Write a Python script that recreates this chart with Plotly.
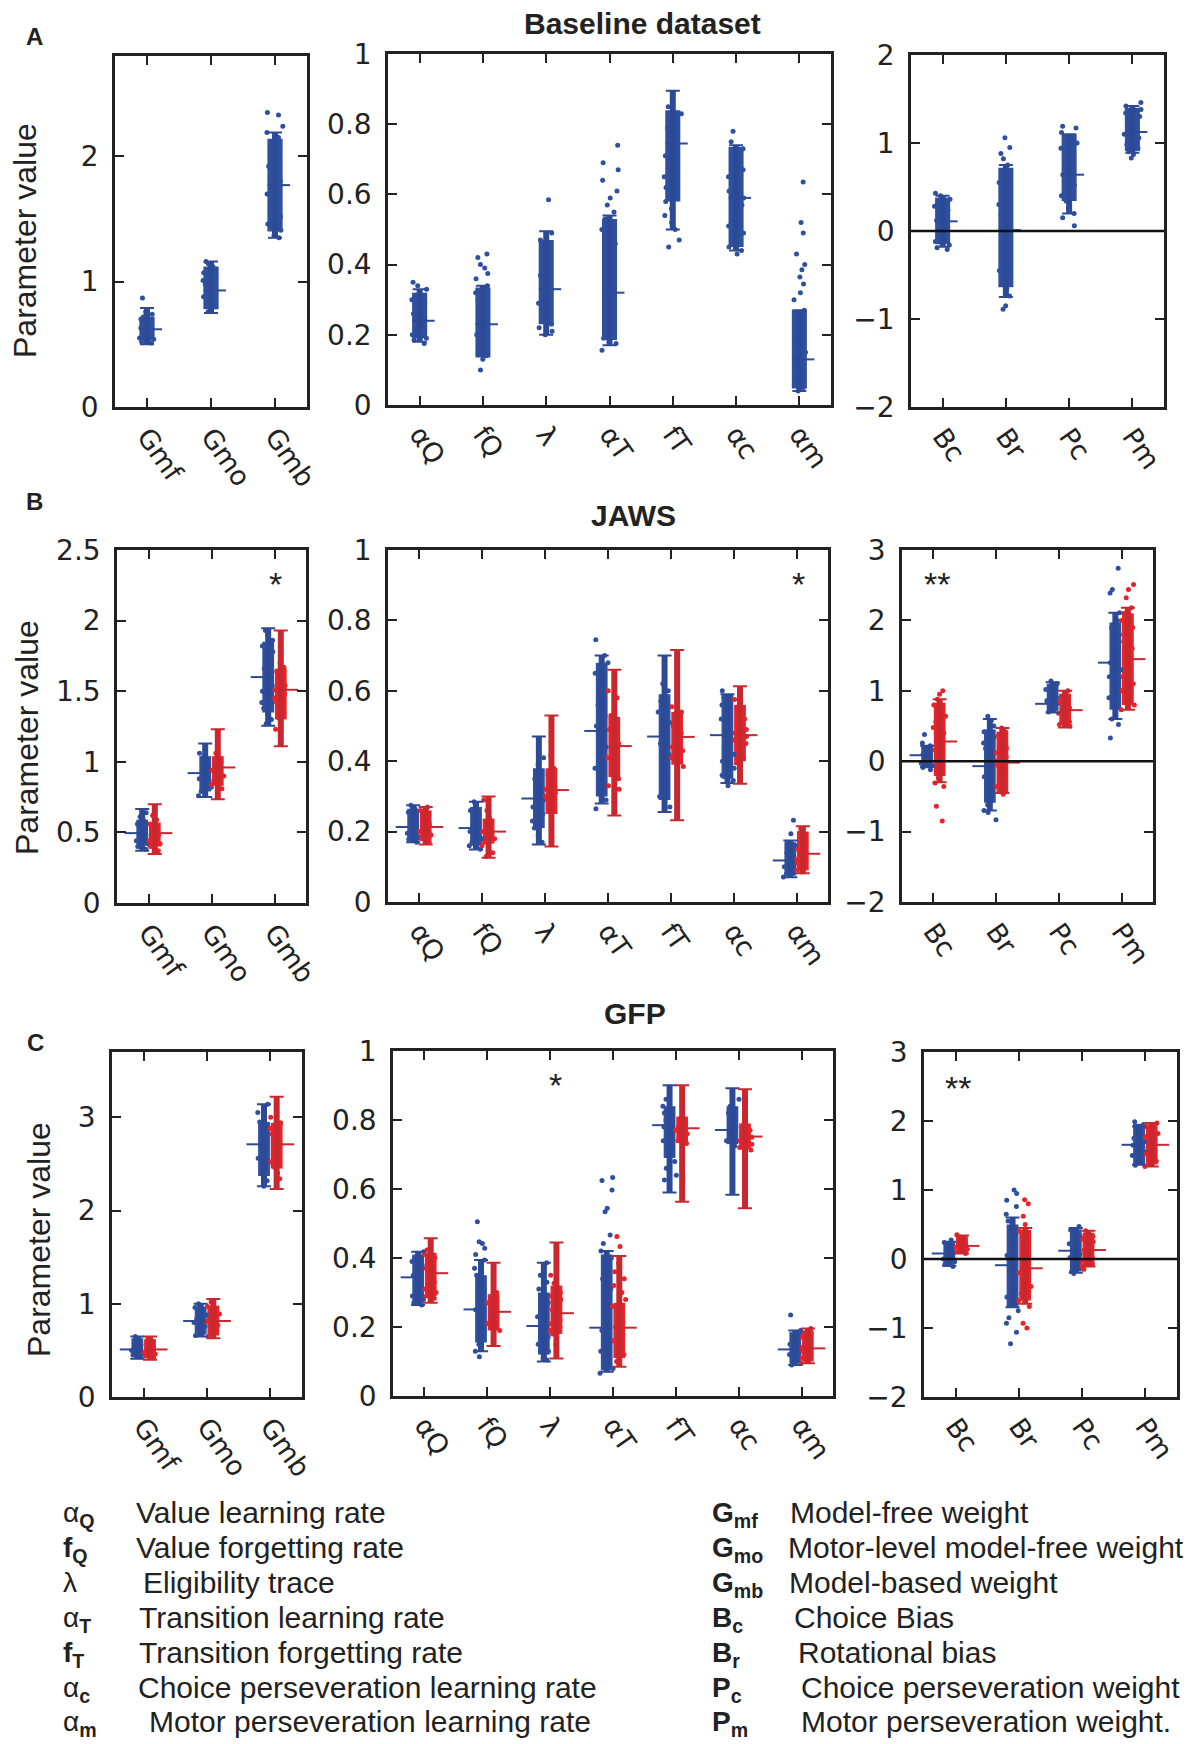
import plotly.graph_objects as go

W, H = 1204, 1744
FONT = "Liberation Sans, Arial, sans-serif"
TICK_FONT = "DejaVu Sans, Liberation Sans, sans-serif"
INK = "#222222"
BLUE, BLUE_BAR = "#2f4f9f", "#2c4a95"
RED, RED_BAR = "#e8232a", "#c9282f"

# ---------------- categories ----------------
WEIGHT_LABELS = ["Gmf", "Gmo", "Gmb"]
RATE_LABELS = ["αQ", "fQ", "λ", "αT", "fT", "αc", "αm"]
BIAS_LABELS = ["Bc", "Br", "Pc", "Pm"]

# ---------------- A: Baseline dataset ----------------
A_W_PTS = [
    [0.87, 0.76, 0.74, 0.72, 0.70, 0.68, 0.66, 0.65, 0.63, 0.62, 0.61, 0.60, 0.58, 0.57, 0.55, 0.54, 0.52, 0.51],
    [1.16, 1.14, 1.12, 1.10, 1.07, 1.04, 1.01, 0.98, 0.96, 0.94, 0.92, 0.90, 0.88, 0.86, 0.83, 0.80, 0.78, 0.76],
    [2.35, 2.33, 2.24, 2.19, 2.15, 2.10, 2.04, 1.98, 1.92, 1.86, 1.80, 1.75, 1.70, 1.64, 1.58, 1.52, 1.46, 1.41, 1.37, 1.35],
]
A_W_CORE = [[0.53, 0.72], [0.78, 1.12], [1.40, 2.14]]
A_W_ERR = [[0.50, 0.62, 0.79], [0.75, 0.93, 1.16], [1.35, 1.77, 2.19]]

A_R_PTS = [
    [0.35, 0.34, 0.33, 0.31, 0.30, 0.29, 0.28, 0.27, 0.26, 0.25, 0.24, 0.23, 0.22, 0.21, 0.20, 0.19, 0.185, 0.175],
    [0.43, 0.42, 0.40, 0.39, 0.375, 0.36, 0.34, 0.32, 0.30, 0.28, 0.26, 0.24, 0.22, 0.20, 0.18, 0.16, 0.14, 0.13, 0.10],
    [0.585, 0.49, 0.47, 0.45, 0.43, 0.41, 0.39, 0.37, 0.35, 0.33, 0.31, 0.29, 0.27, 0.25, 0.23, 0.22, 0.21, 0.20],
    [0.74, 0.69, 0.67, 0.64, 0.61, 0.59, 0.57, 0.55, 0.53, 0.50, 0.46, 0.42, 0.38, 0.34, 0.30, 0.26, 0.22, 0.19, 0.175, 0.156],
    [0.85, 0.83, 0.81, 0.79, 0.77, 0.75, 0.73, 0.71, 0.69, 0.67, 0.65, 0.62, 0.60, 0.58, 0.56, 0.54, 0.52, 0.50, 0.47, 0.45],
    [0.78, 0.75, 0.73, 0.71, 0.69, 0.67, 0.65, 0.63, 0.61, 0.59, 0.57, 0.55, 0.53, 0.51, 0.49, 0.47, 0.45, 0.44, 0.43],
    [0.635, 0.52, 0.49, 0.43, 0.40, 0.385, 0.365, 0.345, 0.32, 0.30, 0.27, 0.24, 0.21, 0.18, 0.15, 0.12, 0.09, 0.07, 0.05, 0.04],
]
A_R_CORE = [[0.19, 0.32], [0.135, 0.335], [0.23, 0.47], [0.185, 0.53], [0.58, 0.84], [0.45, 0.735], [0.047, 0.27]]
A_R_ERR = [[0.18, 0.24, 0.33], [0.145, 0.23, 0.34], [0.20, 0.33, 0.495], [0.17, 0.32, 0.54],
           [0.50, 0.745, 0.895], [0.44, 0.59, 0.74], [0.04, 0.13, 0.27]]

A_B_PTS = [
    [0.43, 0.40, 0.36, 0.32, 0.28, 0.24, 0.20, 0.16, 0.12, 0.08, 0.04, 0.0, -0.04, -0.08, -0.12, -0.16, -0.19, -0.21],
    [1.06, 0.95, 0.88, 0.82, 0.75, 0.65, 0.55, 0.42, 0.30, 0.18, 0.05, -0.08, -0.20, -0.32, -0.45, -0.58, -0.66, -0.74, -0.85, -0.89],
    [1.19, 1.17, 1.12, 1.06, 1.0, 0.94, 0.88, 0.82, 0.76, 0.70, 0.64, 0.58, 0.52, 0.46, 0.40, 0.34, 0.26, 0.20, 0.15, 0.06],
    [1.46, 1.42, 1.38, 1.34, 1.30, 1.26, 1.22, 1.18, 1.14, 1.10, 1.06, 1.02, 0.98, 0.94, 0.90, 0.87, 0.83],
]
A_B_CORE = [[-0.15, 0.38], [-0.64, 0.72], [0.34, 1.10], [0.91, 1.40]]
A_B_ERR = [[-0.18, 0.11, 0.40], [-0.75, 0.01, 0.75], [0.20, 0.64, 1.10], [0.89, 1.125, 1.42]]

# ---------------- B: JAWS (blue / red) ----------------
B_W_BLUE_PTS = [
    [0.64, 0.61, 0.58, 0.56, 0.54, 0.52, 0.50, 0.48, 0.46, 0.44, 0.42, 0.40, 0.38],
    [1.10, 1.06, 1.03, 1.00, 0.97, 0.94, 0.91, 0.88, 0.85, 0.82, 0.79, 0.76],
    [1.93, 1.90, 1.86, 1.82, 1.78, 1.74, 1.70, 1.66, 1.62, 1.58, 1.54, 1.50, 1.46, 1.42, 1.38, 1.34, 1.30, 1.27],
]
B_W_BLUE_CORE = [[0.41, 0.59], [0.79, 1.04], [1.35, 1.85]]
B_W_BLUE_ERR = [[0.37, 0.495, 0.665], [0.75, 0.92, 1.13], [1.255, 1.60, 1.945]]
B_W_RED_PTS = [
    [0.62, 0.59, 0.56, 0.54, 0.52, 0.50, 0.48, 0.46, 0.44, 0.42, 0.40, 0.37],
    [1.06, 1.03, 1.00, 0.98, 0.96, 0.94, 0.92, 0.90, 0.87, 0.84, 0.81],
    [1.70, 1.67, 1.64, 1.60, 1.57, 1.54, 1.51, 1.48, 1.45, 1.42, 1.39, 1.35, 1.31, 1.27, 1.23],
]
B_W_RED_CORE = [[0.40, 0.57], [0.83, 1.04], [1.30, 1.66]]
B_W_RED_ERR = [[0.347, 0.495, 0.70], [0.735, 0.96, 1.23], [1.11, 1.51, 1.93]]

B_R_BLUE_PTS = [
    [0.275, 0.265, 0.255, 0.245, 0.235, 0.225, 0.215, 0.205, 0.195, 0.185, 0.178, 0.17],
    [0.285, 0.27, 0.26, 0.25, 0.24, 0.23, 0.22, 0.21, 0.20, 0.19, 0.18, 0.17, 0.16, 0.15],
    [0.41, 0.39, 0.37, 0.35, 0.33, 0.31, 0.29, 0.27, 0.25, 0.23, 0.21, 0.19, 0.17],
    [0.745, 0.70, 0.68, 0.65, 0.62, 0.59, 0.56, 0.53, 0.50, 0.47, 0.44, 0.41, 0.38, 0.35, 0.32, 0.29, 0.265],
    [0.62, 0.60, 0.57, 0.54, 0.51, 0.48, 0.45, 0.42, 0.39, 0.36, 0.33, 0.30, 0.27],
    [0.60, 0.58, 0.56, 0.54, 0.52, 0.50, 0.48, 0.46, 0.44, 0.42, 0.40, 0.38, 0.36, 0.345, 0.33],
    [0.232, 0.194, 0.17, 0.16, 0.15, 0.14, 0.13, 0.12, 0.11, 0.10, 0.09, 0.08, 0.071],
]
B_R_BLUE_CORE = [[0.175, 0.265], [0.16, 0.27], [0.21, 0.38], [0.30, 0.68], [0.29, 0.59], [0.35, 0.59], [0.075, 0.17]]
B_R_BLUE_ERR = [[0.17, 0.213, 0.275], [0.149, 0.21, 0.285], [0.163, 0.294, 0.47], [0.28, 0.486, 0.70],
                [0.256, 0.47, 0.70], [0.338, 0.474, 0.59], [0.07, 0.118, 0.175]]
B_R_RED_PTS = [
    [0.27, 0.26, 0.25, 0.24, 0.23, 0.22, 0.21, 0.20, 0.19, 0.18, 0.17],
    [0.29, 0.26, 0.24, 0.23, 0.22, 0.21, 0.20, 0.19, 0.18, 0.17, 0.16, 0.14, 0.13],
    [0.415, 0.38, 0.36, 0.35, 0.34, 0.33, 0.32, 0.31, 0.30, 0.29, 0.28, 0.27, 0.26, 0.24],
    [0.60, 0.58, 0.55, 0.53, 0.51, 0.49, 0.47, 0.45, 0.43, 0.41, 0.39, 0.37, 0.35, 0.33, 0.32],
    [0.555, 0.54, 0.52, 0.50, 0.48, 0.47, 0.46, 0.45, 0.44, 0.43, 0.41, 0.40, 0.385],
    [0.575, 0.56, 0.54, 0.52, 0.50, 0.49, 0.48, 0.47, 0.46, 0.45, 0.44, 0.43, 0.41, 0.395],
    [0.208, 0.195, 0.18, 0.17, 0.16, 0.15, 0.14, 0.13, 0.12, 0.11, 0.10, 0.09, 0.085],
]
B_R_RED_CORE = [[0.175, 0.26], [0.166, 0.237], [0.25, 0.38], [0.355, 0.526], [0.39, 0.54], [0.40, 0.56], [0.09, 0.20]]
B_R_RED_ERR = [[0.163, 0.213, 0.27], [0.126, 0.20, 0.30], [0.158, 0.318, 0.53], [0.246, 0.443, 0.66],
               [0.232, 0.469, 0.716], [0.336, 0.474, 0.613], [0.082, 0.137, 0.215]]

B_B_BLUE_PTS = [
    [0.38, 0.26, 0.22, 0.18, 0.14, 0.10, 0.08, 0.06, 0.04, 0.02, 0.0, -0.03, -0.06, -0.09, -0.12],
    [0.64, 0.58, 0.50, 0.42, 0.34, 0.26, 0.18, 0.10, 0.02, -0.06, -0.14, -0.22, -0.30, -0.38, -0.46, -0.54, -0.62, -0.70, -0.73, -0.83],
    [1.14, 1.10, 1.06, 1.02, 0.98, 0.94, 0.90, 0.86, 0.82, 0.78, 0.74, 0.70],
    [2.74, 2.44, 2.39, 2.11, 2.0, 1.9, 1.8, 1.7, 1.6, 1.5, 1.4, 1.3, 1.2, 1.1, 1.0, 0.9, 0.8, 0.7, 0.6, 0.52, 0.33],
]
B_B_BLUE_CORE = [[-0.10, 0.22], [-0.59, 0.45], [0.72, 1.10], [0.73, 1.97]]
B_B_BLUE_ERR = [[-0.08, 0.085, 0.22], [-0.70, -0.07, 0.60], [0.69, 0.815, 1.12], [0.60, 1.40, 2.11]]
B_B_RED_PTS = [
    [1.0, 0.95, 0.88, 0.80, 0.72, 0.64, 0.56, 0.48, 0.40, 0.32, 0.24, 0.16, 0.08, 0.0, -0.08, -0.16, -0.24, -0.31, -0.36, -0.64, -0.85],
    [0.47, 0.42, 0.36, 0.30, 0.24, 0.18, 0.12, 0.06, 0.0, -0.06, -0.12, -0.18, -0.24, -0.30, -0.36, -0.42, -0.47],
    [1.0, 0.96, 0.92, 0.88, 0.84, 0.80, 0.76, 0.72, 0.68, 0.64, 0.60, 0.56, 0.52, 0.50],
    [2.51, 2.44, 2.32, 2.18, 2.1, 2.0, 1.9, 1.8, 1.7, 1.6, 1.5, 1.4, 1.3, 1.2, 1.1, 1.0, 0.9, 0.8, 0.73],
]
B_B_RED_CORE = [[-0.21, 0.83], [-0.45, 0.42], [0.52, 0.96], [0.80, 2.10]]
B_B_RED_ERR = [[-0.30, 0.28, 0.88], [-0.45, -0.02, 0.47], [0.48, 0.725, 1.0], [0.73, 1.45, 2.18]]

# ---------------- C: GFP (blue / red) ----------------
C_W_BLUE_PTS = [
    [0.65, 0.62, 0.59, 0.56, 0.53, 0.50, 0.47, 0.45, 0.43],
    [1.0, 0.96, 0.92, 0.88, 0.84, 0.80, 0.76, 0.72, 0.68, 0.66],
    [3.14, 3.05, 2.95, 2.88, 2.80, 2.72, 2.64, 2.56, 2.48, 2.40, 2.32, 2.26],
]
C_W_BLUE_CORE = [[0.44, 0.63], [0.67, 0.97], [2.37, 2.95]]
C_W_BLUE_ERR = [[0.41, 0.51, 0.65], [0.65, 0.815, 1.0], [2.26, 2.71, 3.14]]
C_W_RED_PTS = [
    [0.63, 0.60, 0.57, 0.54, 0.51, 0.48, 0.46, 0.44, 0.42],
    [1.02, 0.97, 0.93, 0.89, 0.85, 0.81, 0.77, 0.73, 0.69, 0.65],
    [3.0, 2.94, 2.88, 2.82, 2.76, 2.70, 2.64, 2.58, 2.52, 2.46, 2.40, 2.34, 2.28],
]
C_W_RED_CORE = [[0.43, 0.62], [0.66, 0.98], [2.45, 2.94]]
C_W_RED_ERR = [[0.40, 0.51, 0.65], [0.63, 0.815, 1.05], [2.23, 2.71, 3.22]]

C_R_BLUE_PTS = [
    [0.418, 0.40, 0.39, 0.38, 0.37, 0.36, 0.35, 0.34, 0.33, 0.32, 0.31, 0.30, 0.29, 0.28, 0.27, 0.264],
    [0.505, 0.447, 0.442, 0.428, 0.41, 0.394, 0.37, 0.35, 0.33, 0.31, 0.29, 0.27, 0.25, 0.23, 0.21, 0.19, 0.17, 0.15, 0.13, 0.114],
    [0.386, 0.37, 0.35, 0.33, 0.31, 0.29, 0.27, 0.25, 0.23, 0.21, 0.19, 0.17, 0.15, 0.13, 0.11, 0.104],
    [0.633, 0.625, 0.597, 0.544, 0.534, 0.467, 0.442, 0.42, 0.40, 0.37, 0.34, 0.31, 0.28, 0.25, 0.22, 0.19, 0.16, 0.13, 0.10, 0.08, 0.066],
    [0.86, 0.84, 0.82, 0.80, 0.78, 0.76, 0.74, 0.72, 0.70, 0.68, 0.66, 0.64, 0.626],
    [0.86, 0.84, 0.82, 0.80, 0.78, 0.76, 0.74, 0.725],
    [0.235, 0.19, 0.18, 0.17, 0.16, 0.15, 0.14, 0.13, 0.12, 0.11, 0.10, 0.09],
]
C_R_BLUE_CORE = [[0.27, 0.41], [0.155, 0.35], [0.12, 0.30], [0.075, 0.41], [0.69, 0.84], [0.73, 0.84], [0.095, 0.185]]
C_R_BLUE_ERR = [[0.264, 0.344, 0.418], [0.13, 0.251, 0.394], [0.10, 0.203, 0.386], [0.07, 0.198, 0.42],
                [0.59, 0.785, 0.901], [0.583, 0.771, 0.892], [0.09, 0.135, 0.19]]
C_R_RED_PTS = [
    [0.423, 0.41, 0.40, 0.39, 0.38, 0.37, 0.36, 0.35, 0.34, 0.33, 0.32, 0.31, 0.30, 0.29, 0.283],
    [0.30, 0.29, 0.28, 0.27, 0.26, 0.25, 0.24, 0.23, 0.22, 0.21, 0.20, 0.19],
    [0.35, 0.327, 0.31, 0.30, 0.29, 0.28, 0.27, 0.26, 0.25, 0.24, 0.23, 0.22, 0.21, 0.20, 0.19, 0.18, 0.15],
    [0.462, 0.433, 0.385, 0.36, 0.34, 0.32, 0.30, 0.28, 0.26, 0.24, 0.22, 0.20, 0.18, 0.16, 0.14, 0.12, 0.10],
    [0.81, 0.80, 0.79, 0.78, 0.77, 0.76, 0.75, 0.74, 0.732],
    [0.79, 0.78, 0.77, 0.76, 0.75, 0.74, 0.73, 0.72, 0.713],
    [0.196, 0.18, 0.17, 0.16, 0.15, 0.14, 0.13, 0.12, 0.11, 0.10, 0.095],
]
C_R_RED_CORE = [[0.29, 0.415], [0.19, 0.295], [0.18, 0.32], [0.11, 0.27], [0.735, 0.81], [0.715, 0.79], [0.10, 0.19]]
C_R_RED_ERR = [[0.27, 0.356, 0.457], [0.145, 0.244, 0.386], [0.109, 0.24, 0.445], [0.085, 0.198, 0.406],
               [0.563, 0.776, 0.901], [0.544, 0.752, 0.889], [0.095, 0.138, 0.196]]

C_B_BLUE_PTS = [
    [0.276, 0.24, 0.20, 0.16, 0.12, 0.08, 0.04, 0.0, -0.04, -0.08, -0.11],
    [1.0, 0.95, 0.85, 0.76, 0.65, 0.55, 0.45, 0.35, 0.25, 0.15, 0.05, -0.05, -0.15, -0.25, -0.35, -0.45, -0.55, -0.65, -0.75, -0.85, -0.93, -1.06, -1.23],
    [0.47, 0.42, 0.37, 0.32, 0.27, 0.22, 0.17, 0.12, 0.07, 0.02, -0.03, -0.08, -0.13, -0.18, -0.21],
    [1.99, 1.95, 1.90, 1.85, 1.80, 1.75, 1.70, 1.65, 1.60, 1.55, 1.50, 1.45, 1.40, 1.36],
]
C_B_BLUE_CORE = [[-0.08, 0.24], [-0.70, 0.50], [-0.18, 0.43], [1.37, 1.96]]
C_B_BLUE_ERR = [[-0.10, 0.08, 0.25], [-0.70, -0.09, 0.60], [-0.20, 0.12, 0.45], [1.365, 1.655, 1.92]]
C_B_RED_PTS = [
    [0.35, 0.32, 0.29, 0.26, 0.23, 0.20, 0.17, 0.14, 0.11, 0.08],
    [0.86, 0.80, 0.62, 0.50, 0.40, 0.30, 0.20, 0.10, 0.0, -0.10, -0.20, -0.30, -0.40, -0.50, -0.60, -0.69, -0.93, -1.0],
    [0.41, 0.37, 0.33, 0.29, 0.25, 0.21, 0.17, 0.13, 0.09, 0.05, 0.01, -0.03, -0.07, -0.11, -0.15],
    [1.97, 1.92, 1.87, 1.82, 1.77, 1.72, 1.67, 1.62, 1.57, 1.52, 1.47, 1.42, 1.37, 1.34],
]
C_B_RED_CORE = [[0.09, 0.33], [-0.60, 0.42], [-0.11, 0.38], [1.37, 1.95]]
C_B_RED_ERR = [[0.08, 0.19, 0.34], [-0.65, -0.135, 0.45], [-0.11, 0.13, 0.41], [1.34, 1.655, 1.97]]

# ---------------- layout helpers (pixel boxes of each panel) ----------------
def fx(px):
    return px / W


def fy(py):
    return 1 - py / H


PANELS = [
    # labels, (left, right, top, bottom) px, y range, y ticks, series, zero line
    (WEIGHT_LABELS, (115, 307, 56, 407), [0, 2.8], [0, 1, 2],
     [(A_W_PTS, A_W_CORE, A_W_ERR, BLUE, BLUE_BAR, 0.0, 0.06)], False),
    (RATE_LABELS, (388, 831, 54, 405), [0, 1], [0, 0.2, 0.4, 0.6, 0.8, 1],
     [(A_R_PTS, A_R_CORE, A_R_ERR, BLUE, BLUE_BAR, 0.0, 0.06)], False),
    (BIAS_LABELS, (911, 1164, 55, 407), [-2, 2], [-2, -1, 0, 1, 2],
     [(A_B_PTS, A_B_CORE, A_B_ERR, BLUE, BLUE_BAR, 0.0, 0.06)], True),
    (WEIGHT_LABELS, (117, 306, 550, 903), [0, 2.5], [0, 0.5, 1, 1.5, 2, 2.5],
     [(B_W_BLUE_PTS, B_W_BLUE_CORE, B_W_BLUE_ERR, BLUE, BLUE_BAR, -0.1, -0.1),
      (B_W_RED_PTS, B_W_RED_CORE, B_W_RED_ERR, RED, RED_BAR, 0.1, 0.1)], False),
    (RATE_LABELS, (388, 828, 550, 902), [0, 1], [0, 0.2, 0.4, 0.6, 0.8, 1],
     [(B_R_BLUE_PTS, B_R_BLUE_CORE, B_R_BLUE_ERR, BLUE, BLUE_BAR, -0.1, -0.1),
      (B_R_RED_PTS, B_R_RED_CORE, B_R_RED_ERR, RED, RED_BAR, 0.1, 0.1)], False),
    (BIAS_LABELS, (902, 1153, 550, 902), [-2, 3], [-2, -1, 0, 1, 2, 3],
     [(B_B_BLUE_PTS, B_B_BLUE_CORE, B_B_BLUE_ERR, BLUE, BLUE_BAR, -0.1, -0.1),
      (B_B_RED_PTS, B_B_RED_CORE, B_B_RED_ERR, RED, RED_BAR, 0.1, 0.1)], True),
    (WEIGHT_LABELS, (112, 302, 1052, 1397), [0, 3.7], [0, 1, 2, 3],
     [(C_W_BLUE_PTS, C_W_BLUE_CORE, C_W_BLUE_ERR, BLUE, BLUE_BAR, -0.1, -0.1),
      (C_W_RED_PTS, C_W_RED_CORE, C_W_RED_ERR, RED, RED_BAR, 0.1, 0.1)], False),
    (RATE_LABELS, (393, 833, 1051, 1396), [0, 1], [0, 0.2, 0.4, 0.6, 0.8, 1],
     [(C_R_BLUE_PTS, C_R_BLUE_CORE, C_R_BLUE_ERR, BLUE, BLUE_BAR, -0.1, -0.1),
      (C_R_RED_PTS, C_R_RED_CORE, C_R_RED_ERR, RED, RED_BAR, 0.1, 0.1)], False),
    (BIAS_LABELS, (924, 1177, 1052, 1397), [-2, 3], [-2, -1, 0, 1, 2, 3],
     [(C_B_BLUE_PTS, C_B_BLUE_CORE, C_B_BLUE_ERR, BLUE, BLUE_BAR, -0.1, -0.1),
      (C_B_RED_PTS, C_B_RED_CORE, C_B_RED_ERR, RED, RED_BAR, 0.1, 0.1)], True),
]

fig = go.Figure()
layout_axes = {}
shapes = []

for idx, (labels, box, yr, yt, series, zero) in enumerate(PANELS, start=1):
    xa = "x" if idx == 1 else f"x{idx}"
    ya = "y" if idx == 1 else f"y{idx}"
    n = len(labels)
    cw = 0.28 if len(series) == 1 else 0.22
    for pts, core, err, col, bcol, off, toff in series:
        pos = [i + 1 + off for i in range(n)]
        means = [e[1] for e in err]
        up = [e[2] - e[1] for e in err]
        dn = [e[1] - e[0] for e in err]
        common = dict(xaxis=xa, yaxis=ya, showlegend=False, hoverinfo="skip")
        # error bar stems
        fig.add_trace(go.Scatter(x=pos, y=means, mode="markers",
                                 marker=dict(size=1, color="rgba(0,0,0,0)"),
                                 error_y=dict(type="data", symmetric=False, array=up, arrayminus=dn,
                                              color=bcol, thickness=6, width=0), **common))
        # caps
        fig.add_trace(go.Scatter(x=pos, y=means, mode="markers",
                                 marker=dict(size=1, color="rgba(0,0,0,0)"),
                                 error_y=dict(type="data", symmetric=False, array=up, arrayminus=dn,
                                              color=bcol, thickness=2, width=7), **common))
        # dense core of the cloud
        fig.add_trace(go.Bar(x=pos, y=[c[1] - c[0] for c in core], base=[c[0] for c in core],
                             width=cw * 0.85, marker=dict(color=col, line=dict(width=0)), **common))
        # jittered points
        xs, ys = [], []
        for p, vals in zip(pos, pts):
            xs += [p] * len(vals)
            ys += vals
        fig.add_trace(go.Box(x=xs, y=ys, orientation="v", boxpoints="all", jitter=1, pointpos=0,
                             width=cw, fillcolor="rgba(0,0,0,0)",
                             line=dict(width=0, color="rgba(0,0,0,0)"),
                             marker=dict(color=col, size=5, line=dict(width=0)), **common))
        # mean ticks
        fig.add_trace(go.Scatter(x=[p + toff for p in pos], y=means, mode="markers",
                                 marker=dict(symbol="line-ew", size=16, color=bcol,
                                             line=dict(width=2, color=bcol)), **common))
    l, r, t, b = box
    axis_common = dict(ticks="inside", ticklen=9, tickwidth=1.5, tickcolor=INK,
                       showline=True, linewidth=2.5, linecolor=INK, mirror="ticks",
                       showgrid=False, zeroline=False, fixedrange=True, automargin=False)
    layout_axes["xaxis" if idx == 1 else f"xaxis{idx}"] = dict(
        domain=[fx(l), fx(r)], anchor=ya, range=[0.5, n + 0.5],
        tickmode="array", tickvals=list(range(1, n + 1)), ticktext=labels, tickangle=55,
        tickfont=dict(family=TICK_FONT, size=27, color=INK), ticklabelstandoff=0, **axis_common)
    layout_axes["yaxis" if idx == 1 else f"yaxis{idx}"] = dict(
        domain=[fy(b), fy(t)], anchor=xa, range=yr, tickmode="array", tickvals=yt,
        tickfont=dict(family=TICK_FONT, size=28, color=INK), ticklabelstandoff=8, **axis_common)
    if zero:
        shapes.append(dict(type="line", xref=f"{xa} domain", yref=ya, x0=0, x1=1, y0=0, y1=0,
                           line=dict(color="#111111", width=2.5), layer="above"))

annotations = []


def txt(x, y, s, size, bold=False, xanchor="center", yanchor="middle", angle=0):
    annotations.append(dict(x=fx(x), y=fy(y), xref="paper", yref="paper", text=f"<b>{s}</b>" if bold else s,
                            showarrow=False, xanchor=xanchor, yanchor=yanchor, textangle=angle,
                            font=dict(family=FONT, size=size, color=INK)))


# panel letters and titles
txt(34, 36, "A", 24, bold=True)
txt(34, 502, "B", 24, bold=True)
txt(35, 1042, "C", 24, bold=True)
txt(642, 23, "Baseline dataset", 30, bold=True)
txt(633, 515, "JAWS", 30, bold=True)
txt(635, 1013, "GFP", 30, bold=True)
# y titles
txt(25, 241, "Parameter value", 32, angle=-90)
txt(27, 738, "Parameter value", 32, angle=-90)
txt(39, 1240, "Parameter value", 32, angle=-90)
# significance stars
for sx, sy, s in [(275, 584, "*"), (798, 584, "*"), (937, 584, "**"), (555, 1085, "*"), (958, 1088, "**")]:
    txt(sx, sy, s, 34)

# parameter key
LEFT_SYMBOLS = ["α<sub><b>Q</b></sub>", "<b>f</b><sub><b>Q</b></sub>", "λ", "α<sub><b>T</b></sub>",
                "<b>f</b><sub><b>T</b></sub>", "α<sub><b>c</b></sub>", "α<sub><b>m</b></sub>"]
LEFT_TEXT = ["Value learning rate", "Value forgetting rate", "Eligibility trace", "Transition learning rate",
             "Transition forgetting rate", "Choice perseveration learning rate", "Motor perseveration learning rate"]
RIGHT_SYMBOLS = ["<b>G</b><sub><b>mf</b></sub>", "<b>G</b><sub><b>mo</b></sub>", "<b>G</b><sub><b>mb</b></sub>",
                 "<b>B</b><sub><b>c</b></sub>", "<b>B</b><sub><b>r</b></sub>", "<b>P</b><sub><b>c</b></sub>",
                 "<b>P</b><sub><b>m</b></sub>"]
RIGHT_TEXT = ["Model-free weight", "Motor-level model-free weight", "Model-based weight", "Choice Bias",
              "Rotational bias", "Choice perseveration weight", "Motor perseveration weight."]
ROW_Y = [1511, 1546, 1581, 1616, 1651, 1686, 1720]
LEFT_TX = [134, 134, 141, 137, 137, 136, 147]
RIGHT_TX = [788, 786, 787, 792, 796, 799, 799]
for i, yy in enumerate(ROW_Y):
    txt(61, yy - 16, LEFT_SYMBOLS[i], 28, xanchor="left", yanchor="top")
    txt(LEFT_TX[i], yy - 17, LEFT_TEXT[i], 30, xanchor="left", yanchor="top")
    txt(710, yy - 16, RIGHT_SYMBOLS[i], 28, xanchor="left", yanchor="top")
    txt(RIGHT_TX[i], yy - 17, RIGHT_TEXT[i], 30, xanchor="left", yanchor="top")

fig.update_layout(
    width=W, height=H, margin=dict(l=0, r=0, t=0, b=0), template="none",
    paper_bgcolor="white", plot_bgcolor="white", showlegend=False, hovermode=False,
    barmode="overlay", boxmode="overlay", annotations=annotations, shapes=shapes,
    font=dict(family=FONT, color=INK), **layout_axes,
)

fig.write_html("out.html")
